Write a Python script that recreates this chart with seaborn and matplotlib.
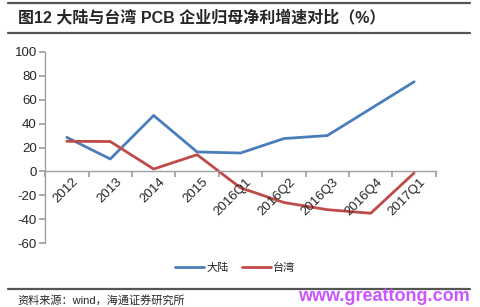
import matplotlib
matplotlib.use("Agg")
import matplotlib.pyplot as plt
import seaborn as sns
import pandas as pd
from matplotlib.lines import Line2D

categories = ["2012", "2013", "2014", "2015", "2016Q1", "2016Q2", "2016Q3", "2016Q4", "2017Q1"]
mainland = [28.5, 10.4, 46.8, 16.3, 15.4, 27.5, 30.0, 52.5, 75.0]
taiwan = [25.2, 25.0, 2.0, 14.0, -13.7, -26.0, -32.0, -35.0, -1.3]
series_names = ["大陆", "台湾"]
yticks = [-60, -40, -20, 0, 20, 40, 60, 80, 100]

sns.set_theme(style="white")
plt.rcParams['font.family'] = ['Liberation Sans', 'Noto Sans CJK SC', 'DejaVu Sans']

df = pd.DataFrame({
    "cat": categories * 2,
    "x": list(range(len(categories))) * 2,
    "val": mainland + taiwan,
    "series": [series_names[0]] * len(categories) + [series_names[1]] * len(categories),
})
palette = {series_names[0]: "#4A7EBB", series_names[1]: "#BE4B48"}

fig = plt.figure(figsize=(4.8, 3.07), dpi=100)
ax = fig.add_axes([0.094, 0.208, 0.814, 0.623])
sns.lineplot(data=df, x="x", y="val", hue="series", palette=palette, linewidth=2.0, ax=ax, legend=False)

ax.set_xlim(-0.5, len(categories) - 0.5)
ax.set_ylim(-60, 100)
ax.set_yticks(yticks)
ax.set_yticklabels([str(v) for v in yticks], fontsize=9.5)
ax.set_xlabel("")
ax.set_ylabel("")

for s in ["top", "right"]:
    ax.spines[s].set_visible(False)
ax.spines["bottom"].set_position(("data", 0))
ax.spines["bottom"].set_color("#A0A0A0")
ax.spines["left"].set_color("#A0A0A0")
ax.spines["bottom"].set_linewidth(1)
ax.spines["left"].set_linewidth(1)

# x ticks at category boundaries, labels at centers
ax.set_xticks([i - 0.5 for i in range(len(categories) + 1)], minor=False)
ax.set_xticklabels([""] * (len(categories) + 1))
ax.tick_params(axis="x", which="major", direction="out", length=4, color="#A0A0A0", bottom=True)
ax.tick_params(axis="y", direction="out", length=4, color="#A0A0A0", left=True, pad=2)
for i, c in enumerate(categories):
    ax.text(i + 0.12, -3.5, c, rotation=45, ha="right", va="top", rotation_mode="anchor",
            fontsize=9.5, transform=ax.transData)

# legend
handles = [Line2D([0], [0], color=palette[n], lw=2) for n in series_names]
fig.legend(handles, series_names, loc="center", bbox_to_anchor=(0.49, 0.127), ncol=2, frameon=False,
           handlelength=2.6, handletextpad=0.2, columnspacing=1.2,
           prop={'family': ['Noto Sans CJK SC'], 'size': 8})

# title and rules
fig.add_artist(Line2D([0.017, 0.98], [0.99, 0.99], color="#555555", lw=1.6))
fig.add_artist(Line2D([0.017, 0.98], [0.893, 0.893], color="#555555", lw=1.6))
fig.add_artist(Line2D([0.017, 0.98], [0.059, 0.059], color="#555555", lw=1.6))
fig.text(0.037, 0.942, "图12 大陆与台湾 PCB 企业归母净利增速对比（%）", fontsize=11.5, fontweight="bold",
         va="center", ha="left", family=['Liberation Sans', 'Noto Sans CJK SC'])
fig.text(0.037, 0.022, "资料来源：wind，海通证券研究所", fontsize=8, va="center", ha="left",
         family=['Liberation Sans', 'Noto Sans CJK SC'])
fig.text(0.978, 0.035, "www.greattong.com", fontsize=13, fontweight="bold", color="#CC55FF",
         va="center", ha="right", family=['Liberation Sans'])

fig.savefig("out.png", dpi=100, facecolor="white")
